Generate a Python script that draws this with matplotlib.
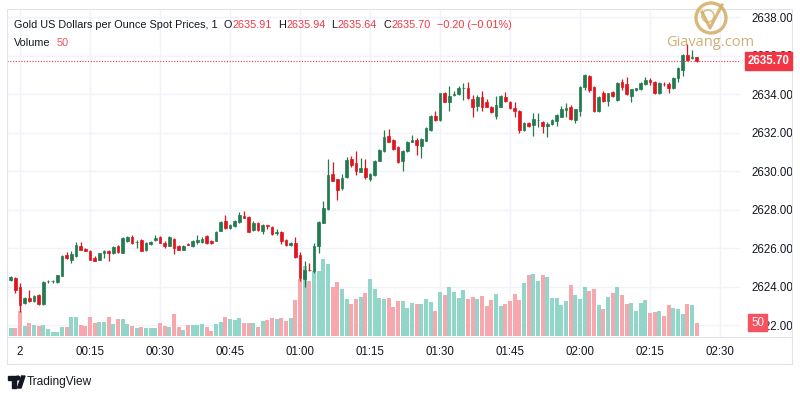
import numpy as np
import matplotlib.pyplot as plt
from matplotlib.patches import Rectangle, Circle, Polygon
from matplotlib.lines import Line2D

# one-minute candles, minute index from 00:00 (day 2)
minutes = np.arange(-2, 146)

opens = [2624.35, 2624.44, 2624.00, 2623.16, 2623.42, 2623.25, 2623.56, 2623.09, 2624.27, 2624.29,
         2624.22, 2624.56, 2625.64, 2625.38, 2625.60, 2626.12, 2625.95, 2625.84, 2625.47, 2625.38,
         2625.72, 2625.86, 2625.72, 2626.10, 2625.76, 2626.38, 2626.59, 2626.30, 2626.42, 2625.90,
         2626.21, 2626.40, 2626.56, 2626.24, 2626.12, 2626.45, 2626.10, 2625.90, 2626.21, 2626.12,
         2626.33, 2626.33, 2626.62, 2626.38, 2626.38, 2626.90, 2627.40, 2627.03, 2627.16, 2627.37,
         2627.68, 2627.63, 2626.94, 2627.31, 2626.90, 2627.18, 2627.11, 2626.77, 2626.85, 2626.42,
         2626.14, 2626.28, 2625.64, 2624.40, 2624.88, 2624.82, 2626.10, 2627.31, 2628.01, 2629.84,
         2629.57, 2629.10, 2629.67, 2630.61, 2630.43, 2629.97, 2630.14, 2629.57, 2629.79, 2630.54,
         2631.04, 2631.83, 2631.61, 2631.26, 2630.54, 2631.04, 2631.53, 2631.61, 2631.31, 2631.57,
         2632.13, 2632.86, 2632.65, 2634.03, 2633.60, 2633.96, 2633.98, 2634.30, 2634.29, 2633.72,
         2633.38, 2633.83, 2633.60, 2633.34, 2632.86, 2633.34, 2633.86, 2633.60, 2633.29, 2633.12,
         2632.13, 2632.51, 2632.39, 2632.64, 2632.56, 2632.34, 2632.43, 2632.60, 2632.82, 2633.17,
         2633.34, 2632.65, 2633.12, 2634.38, 2634.94, 2634.38, 2633.12, 2634.07, 2633.64, 2634.12,
         2633.69, 2634.61, 2634.50, 2633.90, 2634.21, 2634.24, 2634.50, 2634.73, 2634.64, 2634.03,
         2634.54, 2634.50, 2634.33, 2634.82, 2635.25, 2636.03, 2635.85, 2635.91]

highs = [2624.55, 2624.50, 2624.17, 2623.45, 2623.82, 2623.56, 2623.60, 2624.30, 2624.36, 2624.35,
         2624.62, 2625.62, 2625.78, 2625.82, 2626.33, 2626.30, 2625.98, 2625.88, 2625.58, 2625.74,
         2625.88, 2625.88, 2626.08, 2626.14, 2626.58, 2626.62, 2626.70, 2626.40, 2626.45, 2626.30,
         2626.36, 2626.68, 2626.60, 2626.36, 2626.60, 2626.50, 2626.14, 2626.14, 2626.26, 2626.40,
         2626.68, 2626.58, 2626.66, 2626.42, 2626.88, 2627.40, 2627.71, 2627.24, 2627.46, 2627.89,
         2627.94, 2627.66, 2627.38, 2627.34, 2627.24, 2627.22, 2627.14, 2626.98, 2626.88, 2626.45,
         2626.32, 2626.59, 2625.80, 2625.30, 2625.24, 2626.24, 2627.40, 2628.44, 2630.61, 2630.48,
         2629.60, 2629.84, 2630.74, 2630.80, 2631.04, 2630.66, 2630.60, 2629.92, 2630.58, 2631.12,
         2632.13, 2632.16, 2631.64, 2631.30, 2631.08, 2631.58, 2631.86, 2631.70, 2631.70, 2632.30,
         2632.90, 2633.10, 2634.06, 2634.10, 2634.42, 2634.14, 2634.42, 2634.58, 2634.64, 2633.95,
         2633.95, 2634.17, 2633.72, 2633.38, 2633.90, 2633.95, 2634.12, 2633.66, 2633.60, 2633.16,
         2632.56, 2632.56, 2633.00, 2633.02, 2632.60, 2632.56, 2632.70, 2632.96, 2633.40, 2633.55,
         2633.44, 2633.24, 2634.42, 2635.04, 2634.98, 2634.42, 2633.90, 2634.14, 2634.06, 2634.16,
         2634.60, 2634.77, 2634.90, 2634.28, 2634.32, 2634.62, 2634.88, 2634.82, 2634.68, 2634.62,
         2634.60, 2634.60, 2634.86, 2635.38, 2636.06, 2636.60, 2636.29, 2635.94]

lows = [2624.30, 2623.68, 2622.70, 2623.10, 2623.20, 2623.20, 2623.05, 2623.05, 2624.20, 2624.20,
        2624.18, 2624.52, 2625.44, 2625.20, 2625.52, 2625.88, 2625.82, 2625.36, 2625.32, 2625.36,
        2625.47, 2625.34, 2625.70, 2625.74, 2625.72, 2626.30, 2626.20, 2626.02, 2625.84, 2625.86,
        2626.18, 2626.38, 2626.26, 2626.00, 2626.10, 2625.67, 2625.88, 2625.88, 2626.14, 2626.05,
        2626.22, 2626.24, 2626.20, 2626.22, 2626.36, 2626.88, 2627.00, 2626.98, 2627.10, 2627.30,
        2627.54, 2626.82, 2626.88, 2626.90, 2626.73, 2626.98, 2626.70, 2626.70, 2626.21, 2626.12,
        2626.10, 2625.50, 2624.30, 2623.96, 2624.80, 2624.70, 2625.76, 2627.28, 2627.98, 2629.46,
        2628.49, 2629.01, 2629.64, 2630.22, 2629.79, 2629.93, 2629.60, 2629.50, 2629.76, 2630.50,
        2631.00, 2631.50, 2631.10, 2630.44, 2630.02, 2631.00, 2631.50, 2630.83, 2630.66, 2631.54,
        2632.10, 2632.62, 2632.62, 2633.56, 2633.13, 2633.88, 2633.95, 2633.70, 2633.74, 2632.82,
        2633.10, 2633.10, 2633.30, 2633.00, 2632.70, 2633.30, 2633.60, 2633.22, 2632.78, 2631.96,
        2632.08, 2632.30, 2631.82, 2632.30, 2631.96, 2631.78, 2632.40, 2632.34, 2632.78, 2632.80,
        2632.66, 2632.50, 2632.85, 2634.20, 2634.10, 2633.08, 2633.08, 2633.60, 2633.40, 2633.86,
        2633.65, 2634.20, 2633.95, 2633.60, 2634.18, 2634.20, 2634.46, 2634.48, 2634.00, 2634.00,
        2634.40, 2634.06, 2634.24, 2634.64, 2634.96, 2635.72, 2635.80, 2635.64]

closes = [2624.48, 2623.82, 2623.05, 2623.39, 2623.25, 2623.51, 2623.09, 2624.25, 2624.31, 2624.30,
          2624.60, 2625.60, 2625.50, 2625.67, 2626.16, 2625.90, 2625.86, 2625.38, 2625.35, 2625.72,
          2625.86, 2625.76, 2626.07, 2625.78, 2626.54, 2626.56, 2626.28, 2626.33, 2625.86, 2626.28,
          2626.33, 2626.54, 2626.28, 2626.12, 2626.56, 2626.02, 2625.90, 2626.10, 2626.16, 2626.36,
          2626.42, 2626.45, 2626.24, 2626.24, 2626.85, 2627.37, 2627.03, 2627.20, 2627.42, 2627.71,
          2627.58, 2626.85, 2627.31, 2626.94, 2627.20, 2627.14, 2626.73, 2626.85, 2626.38, 2626.16,
          2626.28, 2625.55, 2624.43, 2624.86, 2624.84, 2626.10, 2627.37, 2628.06, 2629.79, 2629.50,
          2629.01, 2629.65, 2630.57, 2630.31, 2630.02, 2630.14, 2629.67, 2629.84, 2630.54, 2631.09,
          2631.78, 2631.53, 2631.14, 2630.48, 2631.04, 2631.53, 2631.61, 2631.35, 2631.65, 2632.25,
          2632.87, 2632.65, 2634.03, 2633.60, 2633.91, 2634.00, 2634.33, 2634.32, 2633.78, 2633.34,
          2633.86, 2633.34, 2633.34, 2633.05, 2633.43, 2633.90, 2633.64, 2633.26, 2633.12, 2632.13,
          2632.51, 2632.35, 2632.70, 2632.67, 2632.35, 2632.43, 2632.65, 2632.91, 2633.20, 2633.29,
          2632.69, 2633.20, 2634.38, 2634.99, 2634.21, 2633.12, 2633.86, 2633.64, 2634.03, 2633.90,
          2634.56, 2634.38, 2634.00, 2634.24, 2634.29, 2634.59, 2634.73, 2634.64, 2634.03, 2634.59,
          2634.52, 2634.33, 2634.82, 2635.34, 2636.03, 2635.77, 2635.94, 2635.70]

volumes = [30, 30, 96, 40, 49, 42, 40, 42, 26, 15,
           15, 36, 36, 74, 74, 42, 40, 72, 49, 54,
           54, 72, 46, 65, 64, 46, 40, 30, 36, 32,
           32, 32, 49, 40, 35, 85, 36, 23, 42, 42,
           42, 47, 35, 19, 47, 54, 73, 64, 60, 68,
           51, 49, 49, 36, 58, 62, 68, 64, 68, 58,
           68, 137, 218, 269, 212, 250, 250, 295, 278, 190,
           208, 180, 141, 124, 141, 151, 166, 218, 180, 148,
           141, 145, 113, 135, 136, 106, 126, 123, 123, 142,
           130, 96, 168, 158, 187, 169, 148, 177, 142, 151,
           142, 155, 117, 139, 162, 117, 123, 136, 162, 139,
           205, 235, 240, 213, 235, 226, 145, 148, 119, 136,
           196, 158, 141, 190, 174, 181, 119, 103, 151, 167,
           187, 158, 123, 126, 96, 126, 139, 90, 94, 96,
           77, 119, 106, 103, 85, 123, 119, 50]

tick_minutes = [0, 15, 30, 45, 60, 75, 90, 105, 120, 135, 150]
tick_labels = ['2', '00:15', '00:30', '00:45', '01:00', '01:15',
               '01:30', '01:45', '02:00', '02:15', '02:30']
price_ticks = [2622, 2624, 2626, 2628, 2630, 2632, 2634, 2636, 2638]

UP, DOWN = '#227a4f', '#e0141c'
VUP, VDOWN = '#92d5c9', '#f7a8ae'
TXT = '#131722'
RED = '#f23645'

plt.rcParams['font.family'] = ['Liberation Sans', 'DejaVu Sans']

W, H = 800, 400
fig = plt.figure(figsize=(8, 4), dpi=100)


def fx(px):
    return px / W


def fy(py):
    return 1 - py / H


rect = [fx(7), fy(337), fx(740) - fx(7), fy(9) - fy(337)]

# base axes: grid + scales
ax = fig.add_axes(rect)
ax.set_xlim(-2.79, 154.29)
ax.set_ylim(2621.377, 2638.416)
ax.grid(True, color='#f0f3fa', lw=1)
ax.set_xticks(tick_minutes, tick_labels)
ax.set_yticks(price_ticks, [f'{p:.2f}' for p in price_ticks])
ax.yaxis.tick_right()
ax.tick_params(axis='x', length=0, pad=6.5, labelsize=8.3, labelcolor=TXT)
ax.tick_params(axis='y', length=0, pad=8.5, labelsize=8.3, labelcolor=TXT)
for s in ax.spines.values():
    s.set_visible(False)

# volume
o = np.array(opens)
c = np.array(closes)
up = c >= o
axv = fig.add_axes(rect, sharex=ax)
axv.patch.set_visible(False)
axv.axis('off')
axv.set_ylim(-4, 1259)
axv.bar(minutes, volumes, width=0.8, color=np.where(up, VUP, VDOWN), lw=0)

# candles
axc = fig.add_axes(rect, sharex=ax, sharey=ax)
axc.patch.set_visible(False)
axc.axis('off')
cols = np.where(up, UP, DOWN)
axc.vlines(minutes, lows, highs, colors=cols, lw=0.9)
axc.bar(minutes, np.abs(c - o), bottom=np.minimum(o, c), width=0.55,
        color=cols, edgecolor=cols, lw=0.5)
axc.axhline(closes[-1], color=RED, lw=0.8, ls=(0, (1, 1.5)))

# frame
fig.add_artist(Rectangle((fx(7), fy(364)), fx(792) - fx(7), fy(9) - fy(364),
                         fill=False, ec='#e0e3eb', lw=0.8, transform=fig.transFigure))
fig.add_artist(Line2D([fx(7), fx(792)], [fy(337), fy(337)], color='#e0e3eb', lw=0.8))

# last price and last volume labels
fig.canvas.draw()
renderer = fig.canvas.get_renderer()
ylast = ax.transData.transform((0, closes[-1]))[1] / 100.0
fig.add_artist(Rectangle((7.45, ylast - 0.09), 0.47, 0.18, color=RED,
                         transform=fig.dpi_scale_trans))
fig.text(7.685, ylast, f'{closes[-1]:.2f}', transform=fig.dpi_scale_trans,
         ha='center', va='center', color='white', fontsize=8.3, fontweight='bold')
yvol = axv.transData.transform((0, volumes[-1]))[1] / 100.0
fig.add_artist(Rectangle((7.48, yvol - 0.085), 0.19, 0.17, color='#f7525f',
                         transform=fig.dpi_scale_trans))
fig.text(7.575, yvol, str(volumes[-1]), transform=fig.dpi_scale_trans,
         ha='center', va='center', color='white', fontsize=8.3)


# header legend, laid out piece after piece
def chain(pieces, x0, ypx, size):
    x = x0
    for txt, col, gap in pieces:
        t = fig.text(fx(x), fy(ypx), txt, color=col, fontsize=size, va='center')
        x = t.get_window_extent(renderer).x1 + gap


chain([('Gold US Dollars per Ounce Spot Prices, 1', TXT, 6),
       ('O', TXT, 0.5), ('2635.91', RED, 6),
       ('H', TXT, 0.5), ('2635.94', RED, 6),
       ('L', TXT, 0.5), ('2635.64', RED, 6),
       ('C', TXT, 0.5), ('2635.70', RED, 6),
       ('\u22120.20 (\u22120.01%)', RED, 0)], 14, 25, 7.8)
chain([('Volume', TXT, 6), (str(volumes[-1]), '#f7525f', 0)], 14, 43, 7.8)

# Giavang watermark
gold = '#d2ad63'
fig.add_artist(Circle((7.11, 3.82), 0.15, fill=False, ec=gold, lw=2.4,
                      transform=fig.dpi_scale_trans, alpha=0.85))
fig.add_artist(Line2D([7.02, 7.10, 7.22], [3.88, 3.72, 3.95], color=gold, lw=2.2,
                      transform=fig.dpi_scale_trans, alpha=0.85))
fig.add_artist(Circle((7.08, 3.84), 0.06, fill=False, ec=gold, lw=1.3,
                      transform=fig.dpi_scale_trans, alpha=0.7))
fig.text(7.10, 3.57, 'Giavang.com', transform=fig.dpi_scale_trans, ha='center',
         va='center', color='#c9a86a', fontsize=10.5, family=['Open Sans', 'DejaVu Sans'],
         alpha=0.9)

# TradingView logo
fig.add_artist(Polygon([(0.08, 0.24), (0.155, 0.24), (0.155, 0.12), (0.12, 0.12),
                        (0.12, 0.205), (0.08, 0.205)], closed=True, color=TXT,
                       transform=fig.dpi_scale_trans))
fig.add_artist(Circle((0.178, 0.22), 0.019, color=TXT, transform=fig.dpi_scale_trans))
fig.add_artist(Polygon([(0.175, 0.12), (0.21, 0.12), (0.25, 0.24), (0.215, 0.24)],
                       closed=True, color=TXT, transform=fig.dpi_scale_trans))
fig.text(fx(27), fy(382), 'TradingView', color=TXT, fontsize=8.6, va='center')

fig.savefig('out.png', dpi=100, facecolor='white')
